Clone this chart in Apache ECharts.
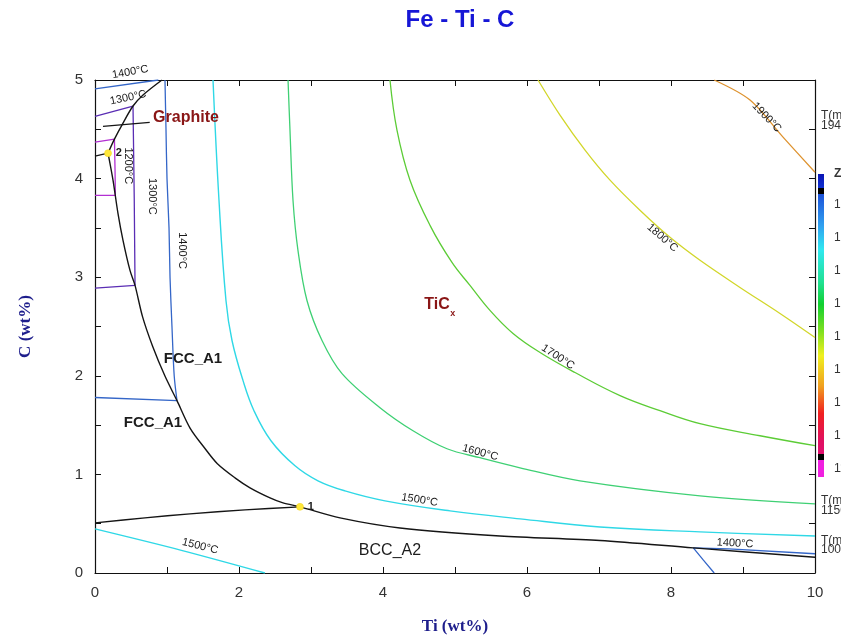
<!DOCTYPE html>
<html>
<head>
<meta charset="utf-8">
<script src="https://cdn.jsdelivr.net/npm/echarts@6/dist/echarts.min.js"></script>
<style>
  html, body { margin: 0; padding: 0; background: #fff; }
  #chart { width: 841px; height: 641px; }
</style>
</head>
<body>
<div id="chart"></div>
<script>
// Liquidus projection of the Fe-Ti-C system (Ti 0-10 wt%, C 0-5 wt%).
// Every curve is a list of [Ti wt%, C wt%] points.

const X_TICK_LABELS = [0, 2, 4, 6, 8, 10];
const Y_TICK_LABELS = [0, 1, 2, 3, 4, 5];

// Univariant valleys (black)
const valleyMain = [ // FCC_A1 / BCC_A2 against TiCx, from point 2 to Ti = 10
  [0.181, 4.258], [0.25, 3.984], [0.319, 3.648], [0.389, 3.374], [0.486, 3.069],
  [0.556, 2.917], [0.66, 2.60], [0.80, 2.30], [0.97, 2.00], [1.139, 1.748],
  [1.32, 1.47], [1.53, 1.26], [1.70, 1.108], [1.944, 0.965], [2.153, 0.864],
  [2.431, 0.762], [2.611, 0.711], [2.847, 0.671], [3.403, 0.559], [4.236, 0.457],
  [5.625, 0.376], [7.014, 0.33], [8.31, 0.255], [10, 0.16]
];
const valleyGraphiteTiC = [
  [0.181, 4.258], [0.27, 4.40], [0.389, 4.563], [0.528, 4.736], [0.667, 4.848], [0.93, 5.0]
];
const valleyGraphiteFcc = [[0, 4.228], [0.181, 4.258]];
const valleyFccBcc = [[0, 0.508], [0.694, 0.559], [1.319, 0.60], [2.083, 0.64], [2.847, 0.671]];
const graphiteLeader = [[0.111, 4.53], [0.76, 4.57]];

// Invariant points
const invariantPoints = [
  { name: '1', ti: 2.847, c: 0.671 },
  { name: '2', ti: 0.181, c: 4.258 }
];

// Isotherms
const iso1200Graphite = [[0, 4.37], [0.27, 4.40]];
const iso1200TiC = [[0.27, 4.40], [0.278, 4.1], [0.283, 3.83]];
const iso1200Fcc = [[0, 3.83], [0.283, 3.83]];

const iso1300Graphite = [[0, 4.63], [0.528, 4.736]];
const iso1300TiC = [[0.528, 4.736], [0.545, 3.8], [0.556, 2.917]];
const iso1300Fcc = [[0, 2.89], [0.556, 2.917]];

const iso1400Graphite = [[0, 4.91], [0.88, 5.0]];
const iso1400TiC = [
  [0.972, 5.0], [0.986, 4.5], [1.0, 4.0], [1.028, 3.5], [1.042, 3.0],
  [1.069, 2.5], [1.10, 2.0], [1.139, 1.748]
];
const iso1400Fcc = [[0, 1.78], [1.139, 1.748]];
const iso1400Bcc = [[8.6, 0], [8.45, 0.13], [8.31, 0.255]];
const iso1400TiCLow = [[8.31, 0.255], [8.8, 0.245], [10, 0.195]];

const iso1500TiC = [
  [1.639, 5.0], [1.722, 3.78], [1.819, 2.764], [1.903, 2.358], [2.056, 1.951],
  [2.208, 1.646], [2.444, 1.341], [2.778, 1.087], [3.097, 0.935], [3.472, 0.833],
  [4.028, 0.732], [4.931, 0.63], [5.903, 0.549], [7.014, 0.467], [8.403, 0.417], [10, 0.376]
];
const iso1500Bcc = [[0, 0.447], [1.2, 0.23], [2.361, 0]];

const iso1600 = [
  [2.681, 5.0], [2.708, 4.492], [2.75, 3.78], [2.819, 3.272], [2.944, 2.764],
  [3.153, 2.358], [3.431, 2.022], [3.958, 1.677], [4.417, 1.443], [4.889, 1.26],
  [5.347, 1.169], [5.903, 1.067], [6.736, 0.935], [8.403, 0.783], [10, 0.701]
];
const iso1700 = [
  [4.097, 5.0], [4.194, 4.492], [4.375, 3.984], [4.653, 3.526], [4.958, 3.15],
  [5.208, 2.917], [5.486, 2.663], [5.806, 2.429], [6.181, 2.236], [6.667, 2.033],
  [7.292, 1.799], [7.847, 1.646], [8.403, 1.514], [9.236, 1.392], [10, 1.291]
];
const iso1800 = [
  [6.153, 5.0], [6.458, 4.644], [6.806, 4.289], [7.153, 3.984], [7.569, 3.679],
  [7.986, 3.404], [8.403, 3.171], [8.958, 2.896], [9.514, 2.632], [10, 2.388]
];
const iso1900 = [[8.6, 5.0], [9.097, 4.797], [9.556, 4.421], [10, 4.065]];

// Isotherm labels: text, Ti, C, rotation (deg)
const isothermLabels = [
  ['1400°C', 0.49, 5.08, 10],
  ['1300°C', 0.46, 4.82, 12],
  ['1200°C', 0.46, 4.13, -90],
  ['1300°C', 0.79, 3.82, -90],
  ['1400°C', 1.21, 3.27, -90],
  ['1500°C', 1.46, 0.27, -14],
  ['1500°C', 4.51, 0.74, -9],
  ['1600°C', 5.35, 1.22, -15],
  ['1700°C', 6.43, 2.19, -33],
  ['1800°C', 7.88, 3.40, -41],
  ['1900°C', 9.33, 4.62, -46],
  ['1400°C', 8.89, 0.30, -3]
];

// Phase field names: text, Ti, C
const phaseLabels = [
  ['Graphite', 1.264, 4.614],
  ['TiC', 4.75, 2.72],
  ['FCC_A1', 1.361, 2.175],
  ['FCC_A1', 0.806, 1.524],
  ['BCC_A2', 4.097, 0.224]
];

// Temperature key beside the frame
const keyLabels = ['1900', '1800', '1700', '1600', '1500', '1400', '1300', '1200', '1100'];

const SANS = '"Liberation Sans", Arial, sans-serif';
const SERIF = '"Liberation Serif", "Times New Roman", serif';

const C_BLACK = '#151515';
const C1200 = '#b22fd2';
const C1300 = '#5a2db4';
const C1400 = '#3466c8';
const C1500 = '#2fd8e6';
const C1600 = '#3fd074';
const C1700 = '#5ccc36';
const C1800 = '#d2d62a';
const C1900 = '#de9330';

function curve(data, color, width, smooth) {
  return {
    type: 'line', data: data, symbol: 'none', showSymbol: false,
    smooth: smooth || false, silent: true, z: 3,
    lineStyle: { color: color, width: width || 1.3 }
  };
}

function textLabel(text, extra) {
  return Object.assign({
    show: true, position: 'inside', formatter: text,
    textBorderWidth: 0, textBorderColor: 'transparent', textShadowBlur: 0,
    fontFamily: SANS
  }, extra);
}

const labelItem = { color: 'transparent', opacity: 1 };

const series = [
  curve(iso1200Graphite, C1200), curve(iso1200TiC, C1200), curve(iso1200Fcc, C1200),
  curve(iso1300Graphite, C1300), curve(iso1300TiC, C1300), curve(iso1300Fcc, C1300),
  curve(iso1400Graphite, C1400), curve(iso1400TiC, C1400, 1.3, 0.3), curve(iso1400Fcc, C1400),
  curve(iso1400Bcc, C1400), curve(iso1400TiCLow, C1400),
  curve(iso1500TiC, C1500, 1.4, 0.4), curve(iso1500Bcc, C1500, 1.4, 0.3),
  curve(iso1600, C1600, 1.3, 0.35),
  curve(iso1700, C1700, 1.3, 0.4),
  curve(iso1800, C1800, 1.3, 0.35),
  curve(iso1900, C1900, 1.3, 0.3),
  curve(valleyMain, C_BLACK, 1.4, 0.3),
  curve(valleyGraphiteTiC, C_BLACK, 1.4, 0.3),
  curve(valleyGraphiteFcc, C_BLACK, 1.4),
  curve(valleyFccBcc, C_BLACK, 1.4, 0.3),
  curve(graphiteLeader, C_BLACK, 1.2),
  {
    type: 'scatter', clip: false, silent: true, z: 5,
    symbolSize: 0, itemStyle: labelItem,
    data: isothermLabels.map(function (l) {
      return {
        value: [l[1], l[2]],
        label: textLabel(l[0], { rotate: l[3], color: '#1a1a1a', fontSize: 11 })
      };
    })
  },
  {
    type: 'scatter', clip: false, silent: true, z: 5,
    symbolSize: 0, itemStyle: labelItem,
    data: phaseLabels.map(function (l) {
      const isRed = (l[0] === 'Graphite' || l[0] === 'TiC');
      return {
        value: [l[1], l[2]],
        label: textLabel(l[0], {
          color: isRed ? '#8a1616' : '#1c1c1c',
          fontSize: isRed ? 16 : (l[0] === 'BCC_A2' ? 16 : 15),
          fontWeight: l[0] === 'BCC_A2' ? 'normal' : 'bold'
        })
      };
    })
  },
  {
    type: 'scatter', clip: false, silent: true, z: 5,
    symbolSize: 0, itemStyle: labelItem,
    data: [{
      value: [4.97, 2.63],
      label: textLabel('x', { color: '#8a1616', fontSize: 9, fontWeight: 'bold' })
    }]
  },
  {
    type: 'scatter', clip: false, silent: true, z: 6,
    symbol: 'circle', symbolSize: 7,
    itemStyle: { color: '#ffe83a', borderColor: '#f2d21c', borderWidth: 0.5, opacity: 1 },
    data: invariantPoints.map(function (p) { return { name: p.name, value: [p.ti, p.c] }; }),
    label: { show: true, position: 'right', distance: 4, formatter: '{b}',
             textBorderWidth: 0, color: '#1a1a1a', fontSize: 11, fontWeight: 'bold', fontFamily: SANS }
  }
];

const tickStyle = { show: true, inside: true, length: 6, lineStyle: { color: '#111', width: 1 } };
const lineAxis = { show: true, onZero: false, lineStyle: { color: '#111', width: 1.2 } };

const option = {
  animation: false,
  backgroundColor: '#fff',
  title: {
    text: 'Fe - Ti - C', left: 455, top: 3, textAlign: 'center',
    textStyle: { fontFamily: SANS, fontWeight: 'bold', fontSize: 24, color: '#1616d6' }
  },
  grid: { left: 95, top: 80, width: 720, height: 493, containLabel: false },
  xAxis: [
    {
      type: 'value', min: 0, max: 10, interval: 1, position: 'bottom',
      axisLine: lineAxis, axisTick: tickStyle, splitLine: { show: false },
      axisLabel: {
        margin: 12, color: '#333', fontSize: 15, fontFamily: SANS,
        formatter: function (v) { return X_TICK_LABELS.indexOf(v) >= 0 ? String(v) : ''; }
      },
      name: 'Ti (wt%)', nameLocation: 'middle', nameGap: 45,
      nameTextStyle: { fontFamily: SERIF, fontWeight: 'bold', fontSize: 17, color: '#1e1e8c' }
    },
    {
      type: 'value', min: 0, max: 10, interval: 1, position: 'top',
      axisLine: lineAxis, axisTick: tickStyle, splitLine: { show: false },
      axisLabel: { show: false }
    }
  ],
  yAxis: [
    {
      type: 'value', min: 0, max: 5, interval: 0.5, position: 'left',
      axisLine: lineAxis, axisTick: tickStyle, splitLine: { show: false },
      axisLabel: {
        margin: 12, color: '#333', fontSize: 15, fontFamily: SANS,
        formatter: function (v) { return Y_TICK_LABELS.indexOf(v) >= 0 ? String(v) : ''; }
      },
      name: 'C (wt%)', nameLocation: 'middle', nameGap: 61,
      nameTextStyle: { fontFamily: SERIF, fontWeight: 'bold', fontSize: 17, color: '#1e1e8c' }
    },
    {
      type: 'value', min: 0, max: 5, interval: 0.5, position: 'right',
      axisLine: lineAxis, axisTick: tickStyle, splitLine: { show: false },
      axisLabel: { show: false }
    }
  ],
  graphic: [
    {
      type: 'rect', left: 818, top: 174, silent: true,
      shape: { width: 6, height: 303 },
      style: {
        fill: new echarts.graphic.LinearGradient(0, 0, 0, 1, [
          { offset: 0, color: '#0a14b4' }, { offset: 0.045, color: '#1030d0' },
          { offset: 0.045, color: '#000' }, { offset: 0.065, color: '#000' },
          { offset: 0.065, color: '#1c50d8' }, { offset: 0.17, color: '#30a0f0' },
          { offset: 0.25, color: '#30e8f0' }, { offset: 0.36, color: '#20e090' },
          { offset: 0.43, color: '#10d030' }, { offset: 0.52, color: '#80e020' },
          { offset: 0.60, color: '#f0f020' }, { offset: 0.70, color: '#f0a020' },
          { offset: 0.79, color: '#f02020' }, { offset: 0.88, color: '#e01060' },
          { offset: 0.925, color: '#e01070' }, { offset: 0.925, color: '#000' },
          { offset: 0.945, color: '#000' }, { offset: 0.945, color: '#f020e0' },
          { offset: 1, color: '#f020e0' }
        ])
      }
    },
    {
      type: 'text', left: 834, top: 168, silent: true,
      style: { text: 'Z', font: 'bold 12px ' + SANS, fill: '#333' }
    }
  ].concat(keyLabels.map(function (t, i) {
    return {
      type: 'text', left: 834, top: 199 + i * 33, silent: true,
      style: { text: t, font: '12px ' + SANS, fill: '#333' }
    };
  })).concat([
    ['T(max)', 110], ['1940', 120],
    ['T(min)', 495], ['1150', 505],
    ['T(min)', 535], ['1000', 544]
  ].map(function (t) {
    return {
      type: 'text', left: 821, top: t[1], silent: true,
      style: { text: t[0], font: '12px ' + SANS, fill: '#333' }
    };
  })),
  series: series
};

const chart = echarts.init(document.getElementById('chart'), null, { renderer: 'canvas' });
chart.setOption(option);
</script>
</body>
</html>
